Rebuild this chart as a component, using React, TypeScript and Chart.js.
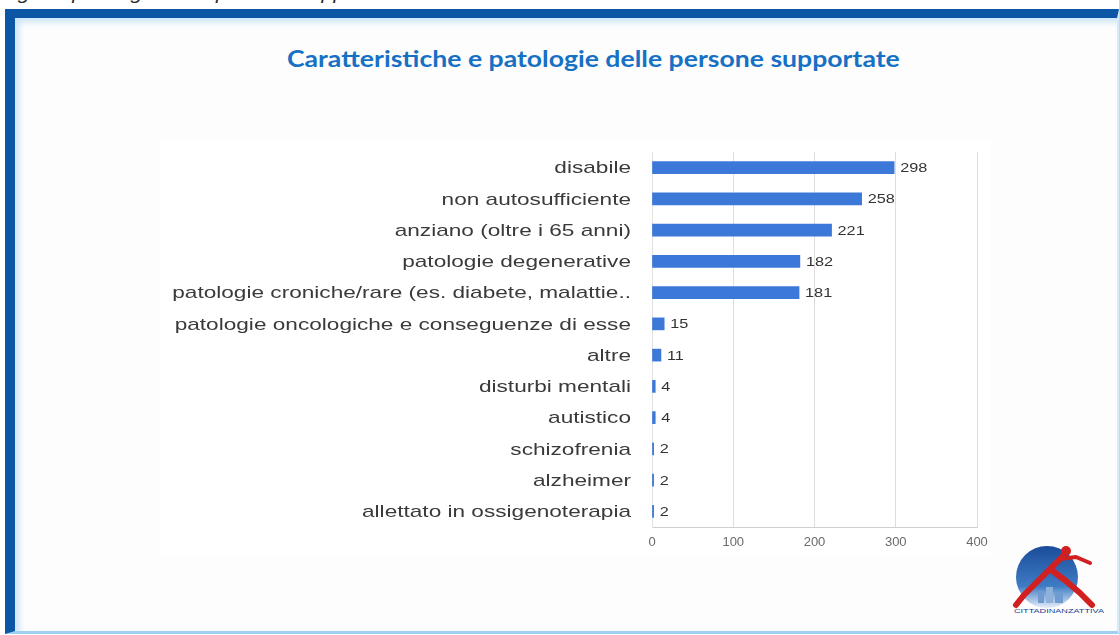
import React, { useEffect, useRef } from 'react';
import { Chart, registerables } from 'chart.js';

Chart.register(...registerables);

const categories = [
  'disabile',
  'non autosufficiente',
  'anziano (oltre i 65 anni)',
  'patologie degenerative',
  'patologie croniche/rare (es. diabete, malattie..',
  'patologie oncologiche e conseguenze di esse',
  'altre',
  'disturbi mentali',
  'autistico',
  'schizofrenia',
  'alzheimer',
  'allettato in ossigenoterapia',
];
const values = [298, 258, 221, 182, 181, 15, 11, 4, 4, 2, 2, 2];
const xMin = 0;
const xMax = 400;
const xStep = 100;

const TITLE = 'Caratteristiche e patologie delle persone supportate';
const CAPTION = 'Figura: patologie delle persone supportate';

const labelPlugin = {
  id: 'stretchedLabels',
  afterDraw(chart: any) {
    const ctx = chart.ctx;
    const ys = chart.scales.y;
    const xs = chart.scales.x;
    ctx.save();
    ctx.fillStyle = '#3a3a3a';
    ctx.font = '17px "Liberation Sans", Arial, sans-serif';
    ctx.textAlign = 'right';
    ctx.textBaseline = 'middle';
    categories.forEach((c, i) => {
      const py = ys.getPixelForValue(i);
      ctx.save();
      ctx.translate(xs.left - 21, py + 1);
      ctx.scale(1.33, 1);
      ctx.fillText(c, 0, 0);
      ctx.restore();
    });
    const meta = chart.getDatasetMeta(0);
    ctx.font = '13px "Liberation Sans", Arial, sans-serif';
    ctx.textAlign = 'left';
    ctx.fillStyle = '#333333';
    meta.data.forEach((bar: any, i: number) => {
      ctx.save();
      ctx.translate(bar.x + 6, bar.y + 1);
      ctx.scale(1.25, 1);
      ctx.fillText(String(values[i]), 0, 0);
      ctx.restore();
    });
    ctx.restore();
  },
};

function Logo() {
  return (
    <svg
      width={115}
      height={92}
      viewBox="0 0 115 92"
      style={{ position: 'absolute', left: 1000, top: 533 }}
    >
      <defs>
        <linearGradient id="lg" x1="0" y1="0" x2="0" y2="1">
          <stop offset="0" stopColor="#1a4c9a" />
          <stop offset="0.65" stopColor="#3f7cc4" />
          <stop offset="1" stopColor="#e6eef8" />
        </linearGradient>
      </defs>
      <circle cx={47} cy={44} r={31} fill="url(#lg)" />
      <rect x={38} y={58} width={6} height={12} fill="#6f9bd0" />
      <rect x={46} y={54} width={7} height={16} fill="#8db1dc" />
      <rect x={55} y={60} width={8} height={10} fill="#6f9bd0" />
      <circle cx={66} cy={18} r={5} fill="#d21f1f" />
      <polyline
        points="62,24 50,36 36,50 24,62 16,72"
        fill="none"
        stroke="#d21f1f"
        strokeWidth={6}
        strokeLinecap="round"
        strokeLinejoin="round"
      />
      <polyline
        points="50,36 66,48 80,60 92,72"
        fill="none"
        stroke="#d21f1f"
        strokeWidth={6}
        strokeLinecap="round"
        strokeLinejoin="round"
      />
      <polyline
        points="60,26 76,24 90,30"
        fill="none"
        stroke="#d21f1f"
        strokeWidth={4}
        strokeLinecap="round"
        strokeLinejoin="round"
      />
      <text
        x={14}
        y={80}
        fontSize={6}
        fontFamily="Liberation Sans, Arial, sans-serif"
        fill="#21418d"
        textLength={90}
        lengthAdjust="spacingAndGlyphs"
      >
        CITTADINANZATTIVA
      </text>
    </svg>
  );
}

export default function App() {
  const canvasRef = useRef<HTMLCanvasElement | null>(null);
  const titleRef = useRef<HTMLSpanElement | null>(null);
  const capRef = useRef<HTMLSpanElement | null>(null);

  useEffect(() => {
    document.body.style.margin = '0';
    if (titleRef.current) {
      const w = titleRef.current.offsetWidth;
      titleRef.current.style.transform = `scaleX(${613 / w})`;
    }
    if (capRef.current) {
      const w = capRef.current.offsetWidth;
      capRef.current.style.transform = `scaleX(${400 / w})`;
    }
    const canvas = canvasRef.current;
    if (!canvas) return;
    const chart = new Chart(canvas, {
      type: 'bar',
      data: {
        labels: categories,
        datasets: [
          {
            data: values,
            backgroundColor: '#3c78d8',
            barThickness: 12,
          },
        ],
      },
      options: {
        indexAxis: 'y',
        animation: false,
        responsive: false,
        devicePixelRatio: 1,
        layout: { padding: { top: 12, right: 23, left: 0, bottom: 0 } },
        plugins: {
          legend: { display: false },
          tooltip: { enabled: false },
          title: { display: false },
        },
        scales: {
          x: {
            min: xMin,
            max: xMax,
            ticks: {
              stepSize: xStep,
              color: '#6a6a6a',
              font: { size: 13, family: '"Liberation Sans", Arial, sans-serif' },
              padding: 8,
            },
            grid: { color: '#dedede', drawTicks: false },
            border: { color: '#cfcfcf' },
            afterFit: (s: any) => {
              s.height = 33;
            },
          },
          y: {
            ticks: { display: false },
            grid: { display: false },
            border: { color: '#e2e2e2' },
            afterFit: (s: any) => {
              s.width = 502;
            },
          },
        },
      },
      plugins: [labelPlugin],
    });
    return () => chart.destroy();
  }, []);

  return (
    <div
      style={{
        position: 'fixed',
        left: 0,
        top: 0,
        width: 1119,
        height: 635,
        background: '#ffffff',
        overflow: 'hidden',
      }}
    >
      <div
        style={{
          position: 'absolute',
          left: 0,
          top: -17,
          whiteSpace: 'nowrap',
          font: 'italic 19px/19px "Liberation Sans", Arial, sans-serif',
          color: '#2a2a2a',
        }}
      >
        <span ref={capRef} style={{ display: 'inline-block', transformOrigin: 'left center' }}>
          {CAPTION}
        </span>
      </div>
      <div
        style={{
          position: 'absolute',
          left: 5,
          top: 9,
          width: 1114,
          height: 625,
          boxSizing: 'border-box',
          borderTop: '9px solid #0c57a5',
          borderLeft: '10px solid #0c57a5',
          borderBottom: '3px solid #9fd0f2',
          borderRight: '2px solid #d6eaf8',
          boxShadow: 'inset 4px 4px 6px rgba(140,195,240,0.45)',
          background: '#fdfdfd',
        }}
      />
      <div
        style={{
          position: 'absolute',
          left: 287,
          top: 47,
          whiteSpace: 'nowrap',
          font: '700 23px/23px Lato, "Open Sans", sans-serif',
          color: '#1670c4',
        }}
      >
        <span ref={titleRef} style={{ display: 'inline-block', transformOrigin: 'left center' }}>
          {TITLE}
        </span>
      </div>
      <div
        style={{
          position: 'absolute',
          left: 160,
          top: 140,
          width: 830,
          height: 416,
          background: '#ffffff',
        }}
      />
      <canvas
        ref={canvasRef}
        width={850}
        height={420}
        style={{ position: 'absolute', left: 150, top: 140, width: 850, height: 420 }}
      />
      <Logo />
    </div>
  );
}
